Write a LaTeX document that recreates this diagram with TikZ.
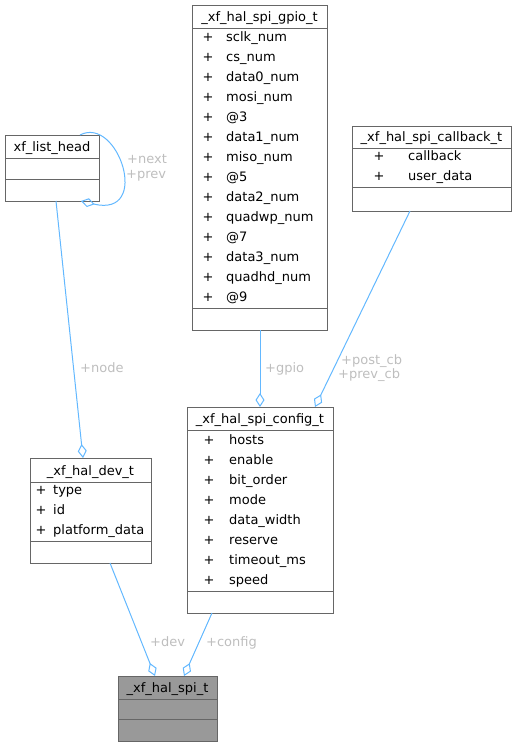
\documentclass[tikz,border=0pt]{standalone}
\usepackage{fontspec}
\setmainfont{DejaVu Sans}
\usepackage{xcolor}
\definecolor{boxline}{HTML}{666666}
\definecolor{edgeblue}{HTML}{63B8FF}
\definecolor{lblgrey}{HTML}{BEBEBE}
\definecolor{hilite}{HTML}{999999}
\usetikzlibrary{arrows.meta, calc}

\begin{document}
\begin{tikzpicture}[x=1pt, y=-1pt,
  cls/.style={draw=boxline, line width=1pt, fill=white, inner sep=0pt, outer sep=0pt, anchor=north west},
  sep/.style={draw=boxline, line width=1pt},
  txt/.style={font=\fontsize{13pt}{16pt}\selectfont, inner sep=0pt, anchor=base},
  mem/.style={txt, anchor=base west},
  lbl/.style={txt, text=lblgrey, anchor=base west},
  link/.style={draw=edgeblue, line width=1pt, -{Diamond[open, length=14pt, width=9pt]}}]
\useasboundingbox (0,0) rectangle (517,747);
% class boxes
\node[cls, minimum width=94, minimum height=66] (head) at (5,135) {};
\node[cls, minimum width=135, minimum height=325] (gpio) at (192,5) {};
\node[cls, minimum width=159, minimum height=85] (cback) at (352,126) {};
\node[cls, minimum width=146, minimum height=206] (config) at (187,407) {};
\node[cls, minimum width=121, minimum height=105] (dev) at (30,458) {};
\node[cls, minimum width=99, minimum height=65, fill=hilite] (spi) at (118,676) {};
\foreach \n/\ya/\yb in {head/23/44, gpio/23/303, cback/22/61, config/23/184, dev/24/83, spi/23/43}{
\draw[sep] ([yshift=-\ya]\n.north west) -- ([yshift=-\ya]\n.north east);
\draw[sep] ([yshift=-\yb]\n.north west) -- ([yshift=-\yb]\n.north east);
}
% titles
\node[txt] (head-t) at (52,151.5) {xf\_list\_head};
\node[txt] (gpio-t) at (259.5,21.5) {\_xf\_hal\_spi\_gpio\_t};
\node[txt] (cback-t) at (431.5,141.5) {\_xf\_hal\_spi\_callback\_t};
\node[txt] (config-t) at (260,423.5) {\_xf\_hal\_spi\_config\_t};
\node[txt] (dev-t) at (90.5,475.5) {\_xf\_hal\_dev\_t};
\node[txt] (spi-t) at (167.5,692.5) {\_xf\_hal\_spi\_t};
% members
\foreach \m [count=\i from 0] in {sclk\_num, cs\_num, data0\_num, mosi\_num, @3, data1\_num, miso\_num, @5, data2\_num, quadwp\_num, @7, data3\_num, quadhd\_num, @9}{
\node[txt] (gpio-p\i) at (208,{41+20*\i}) {+};
\node[mem] (gpio-m\i) at (226,{41+20*\i}) {\m};
}
\foreach \m [count=\i from 0] in {callback, user\_data}{
\node[txt] (cback-p\i) at (379,{160.5+20*\i}) {+};
\node[mem] (cback-m\i) at (408,{160.5+20*\i}) {\m};
}
\foreach \m [count=\i from 0] in {hosts, enable, bit\_order, mode, data\_width, reserve, timeout\_ms, speed}{
\node[txt] (config-p\i) at (209,{444+20*\i}) {+};
\node[mem] (config-m\i) at (229,{444+20*\i}) {\m};
}
\foreach \m [count=\i from 0] in {type, id, platform\_data}{
\node[txt] (dev-p\i) at (41,{494.5+20*\i}) {+};
\node[mem] (dev-m\i) at (53,{494.5+20*\i}) {\m};
}
% links
\draw[link] ([xshift=75]head.north west) .. controls (118,115) and (152,218) .. ([xshift=76]head.south west);
\draw[link] ([xshift=51]head.south west) -- ([xshift=53]dev.north west);
\draw[link] ([xshift=68]gpio.south west) -- ([xshift=73]config.north west);
\draw[link] ([xshift=58]cback.south west) -- ([xshift=128]config.north west);
\draw[link] ([xshift=80]dev.south west) -- ([xshift=37]spi.north west);
\draw[link] ([xshift=25]config.south west) -- ([xshift=66]spi.north west);
\node[lbl] (l-next) at (127,163) {+next};
\node[lbl] (l-prev) at (126,178) {+prev};
\node[lbl] (l-node) at (80,372) {+node};
\node[lbl] (l-gpio) at (265,372) {+gpio};
\node[lbl] (l-post) at (341,364.5) {+post\_cb};
\node[lbl] (l-prevcb) at (338,378.5) {+prev\_cb};
\node[lbl] (l-dev) at (150,646.5) {+dev};
\node[lbl] (l-config) at (206,646.5) {+config};
\end{tikzpicture}
\end{document}
